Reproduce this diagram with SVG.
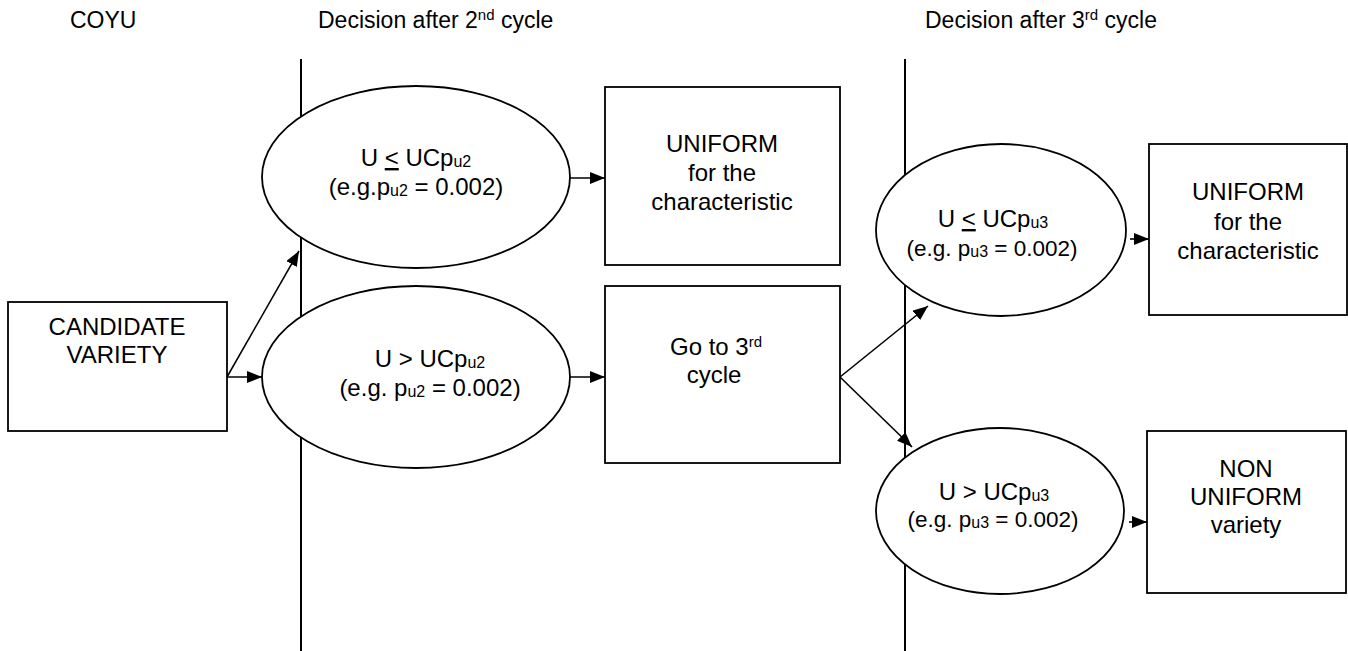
<svg xmlns="http://www.w3.org/2000/svg" width="1348" height="651" viewBox="0 0 1348 651">
<style>
  text { font-family: "Liberation Sans", Arial, sans-serif; fill: #000; }
  .hdr { font-size: 23px; }
  .t { font-size: 24px; text-anchor: middle; }
  .t2 { font-size: 22.5px; text-anchor: middle; }
  .sub { font-size: 16px; }
  .sup { font-size: 15px; }
  .shape { fill: #fff; stroke: #000; stroke-width: 1.8; }
  .div { stroke: #000; stroke-width: 2; fill: none; }
  .conn { stroke: #000; stroke-width: 1.6; fill: none; marker-end: url(#ah); }
</style>
<defs>
  <marker id="ah" markerUnits="userSpaceOnUse" markerWidth="15" markerHeight="12" refX="15" refY="6" orient="auto">
    <path d="M0,0 L15,6 L0,12 z" fill="#000"/>
  </marker>
</defs>
<rect width="1348" height="651" fill="#fff"/>

<g id="headers">
  <text class="hdr" x="70" y="28">COYU</text>
  <text class="hdr" x="318" y="28">Decision after 2<tspan class="sup" dy="-8">nd</tspan><tspan dy="8"> cycle</tspan></text>
  <text class="hdr" x="925" y="28">Decision after 3<tspan class="sup" dy="-8">rd</tspan><tspan dy="8"> cycle</tspan></text>
</g>

<g id="dividers">
  <line class="div" x1="301" y1="59" x2="301" y2="651"/>
  <line class="div" x1="905" y1="59" x2="905" y2="651"/>
</g>

<g id="connectors">
  <line class="conn" x1="227" y1="377" x2="262" y2="377"/>
  <line class="conn" x1="227" y1="377" x2="299" y2="251"/>
  <line class="conn" x1="570" y1="178" x2="605" y2="178"/>
  <line class="conn" x1="569" y1="377" x2="605" y2="377"/>
  <line class="conn" x1="840" y1="377" x2="928" y2="306"/>
  <line class="conn" x1="840" y1="377" x2="912" y2="447"/>
  <line class="conn" x1="1130" y1="239" x2="1149" y2="239"/>
  <line class="conn" x1="1129" y1="522" x2="1147" y2="522"/>
</g>

<g id="candidate">
  <rect class="shape" x="8" y="302" width="219" height="129"/>
  <text class="t" x="117" y="335">CANDIDATE</text>
  <text class="t" x="117" y="363">VARIETY</text>
</g>

<g id="e-u-le-u2">
  <ellipse class="shape" cx="416" cy="177" rx="154" ry="91"/>
  <text class="t" x="416" y="166">U <tspan text-decoration="underline">&lt;</tspan> UCp<tspan class="sub" dy="1">u2</tspan></text>
  <text class="t" x="416" y="195">(e.g.p<tspan class="sub" dy="1">u2</tspan><tspan dy="-1"> = 0.002)</tspan></text>
</g>

<g id="e-u-gt-u2">
  <ellipse class="shape" cx="416" cy="377" rx="154" ry="91"/>
  <text class="t" x="430" y="367">U &gt; UCp<tspan class="sub" dy="1">u2</tspan></text>
  <text class="t" x="430" y="396">(e.g. p<tspan class="sub" dy="1">u2</tspan><tspan dy="-1"> = 0.002)</tspan></text>
</g>

<g id="uniform-2">
  <rect class="shape" x="605" y="87" width="235" height="178"/>
  <text class="t" x="722" y="152">UNIFORM</text>
  <text class="t" x="722" y="181">for the</text>
  <text class="t" x="722" y="210">characteristic</text>
</g>

<g id="go-3rd">
  <rect class="shape" x="605" y="286" width="235" height="177"/>
  <text class="t" x="716" y="355">Go to 3<tspan class="sup" dy="-8">rd</tspan></text>
  <text class="t" x="714" y="383">cycle</text>
</g>

<g id="e-u-le-u3">
  <ellipse class="shape" cx="1001" cy="230" rx="125" ry="86"/>
  <text class="t" x="993" y="227">U <tspan text-decoration="underline">&lt;</tspan> UCp<tspan class="sub" dy="1">u3</tspan></text>
  <text class="t2" x="992" y="256">(e.g. p<tspan class="sub" dy="1">u3</tspan><tspan dy="-1"> = 0.002)</tspan></text>
</g>

<g id="uniform-3">
  <rect class="shape" x="1149" y="144" width="198" height="171"/>
  <text class="t" x="1248" y="200">UNIFORM</text>
  <text class="t" x="1248" y="230">for the</text>
  <text class="t" x="1248" y="259">characteristic</text>
</g>

<g id="e-u-gt-u3">
  <ellipse class="shape" cx="1000" cy="511" rx="124" ry="83"/>
  <text class="t" x="994" y="500">U &gt; UCp<tspan class="sub" dy="1">u3</tspan></text>
  <text class="t2" x="993" y="527">(e.g. p<tspan class="sub" dy="1">u3</tspan><tspan dy="-1"> = 0.002)</tspan></text>
</g>

<g id="non-uniform">
  <rect class="shape" x="1147" y="431" width="199" height="162"/>
  <text class="t" x="1246" y="477">NON</text>
  <text class="t" x="1246" y="505">UNIFORM</text>
  <text class="t" x="1246" y="533">variety</text>
</g>
</svg>
